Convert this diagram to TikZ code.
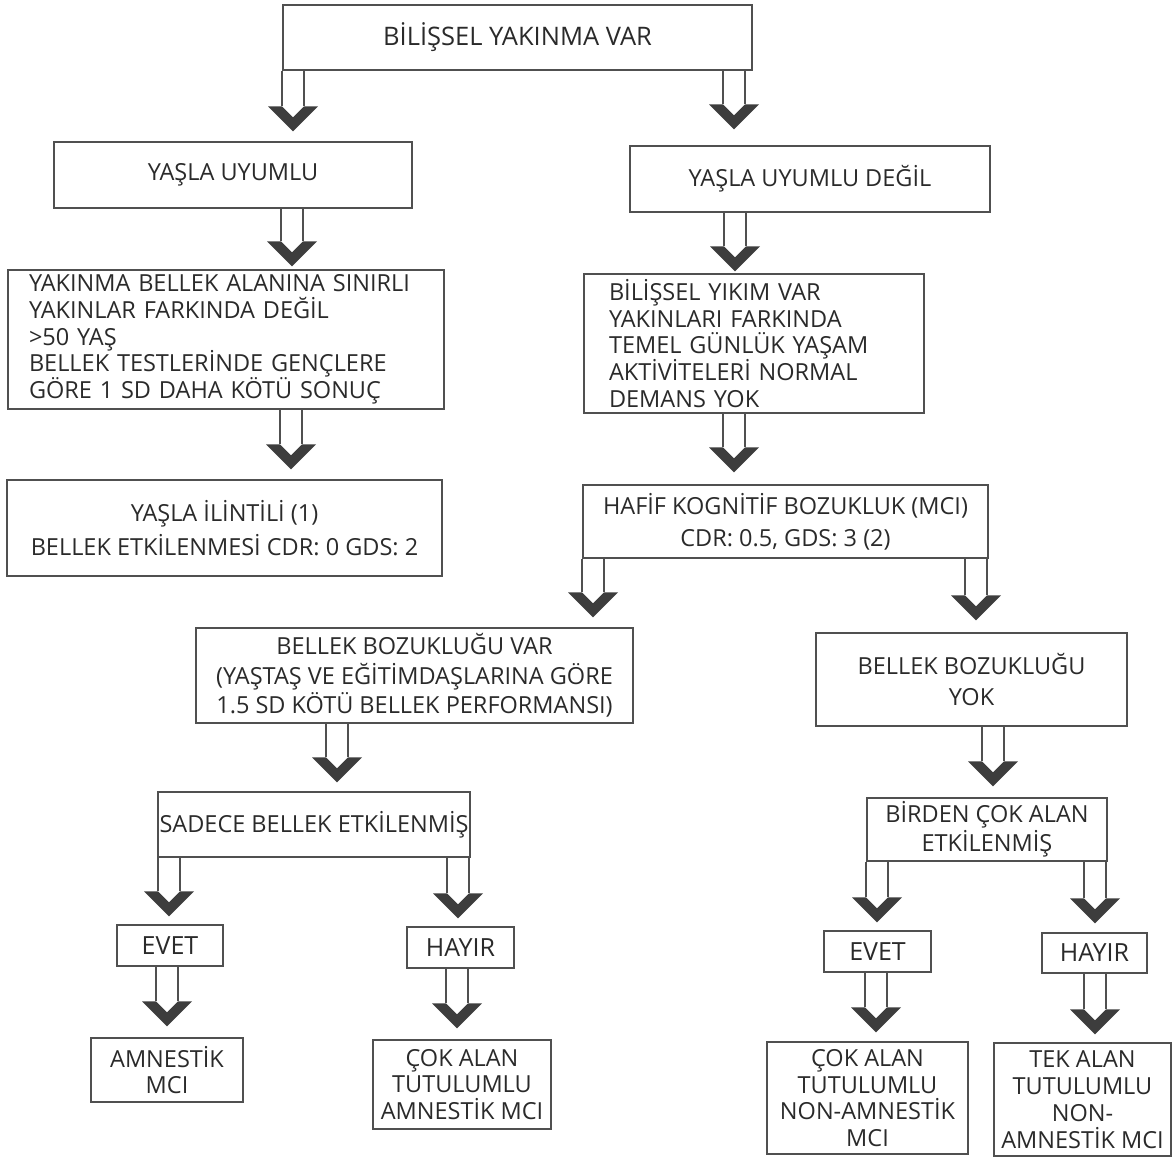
\documentclass[tikz,border=0pt]{standalone}
\usepackage{fontspec}
\setmainfont{Open Sans}
\usetikzlibrary{calc}
\definecolor{inkgray}{HTML}{2A2A2A}
\definecolor{linegray}{HTML}{505050}
\definecolor{headgray}{HTML}{3D3D3D}
\newcommand{\hollowarrow}[4]{%
	\coordinate (tip) at ($(#1,0 |- #3.north)+(0,#4)$);
	\draw [shaft] ($(#1,0 |- #2.south)+(-11,0)$) -- ($(tip)+(-11,25)$);
	\draw [shaft] ($(#1,0 |- #2.south)+(11,0)$) -- ($(tip)+(11,25)$);
	\fill [chevron] (tip) -- ++(-25,25) -- ++(14,0) -- ++(11,-11) -- ++(11,11) -- ++(14,0) -- cycle;
}
\begin{document}
\begin{tikzpicture}[x=1pt,y=1pt,
	box/.style={draw=linegray, line width=1.3pt, inner sep=0pt, text=inkgray, align=center, font=\fontsize{23.5}{26.8}\selectfont},
	bigtext/.style={font=\fontsize{25.5}{28}\selectfont},
	answer/.style={font=\fontsize{25}{28}\selectfont},
	shaft/.style={draw=linegray, line width=1.1pt},
	chevron/.style={fill=headgray}]
		 \useasboundingbox (0,0) rectangle (1174,-1161);
		 \node [box, bigtext, minimum width=469pt, minimum height=65pt] (yakinma) at (517.5,-37.5) {BİLİŞSEL YAKINMA VAR};
		 \node [box, minimum width=358pt, minimum height=66pt] (uyumlu) at (233,-175) {YAŞLA UYUMLU};
		 \node [box, minimum width=360pt, minimum height=66pt] (uyumsuz) at (810,-179) {YAŞLA UYUMLU DEĞİL};
		 \node [box, align=left, text width=394pt, inner xsep=21pt, minimum height=139pt] (sinirli) at (226,-339.5) {YAKINMA BELLEK ALANINA SINIRLI\\YAKINLAR FARKINDA DEĞİL\\>50 YAŞ\\BELLEK TESTLERİNDE GENÇLERE\\GÖRE 1 SD DAHA KÖTÜ SONUÇ};
		 \node [box, align=left, text width=290pt, inner xsep=25pt, minimum height=139pt] (yikim) at (754,-343.5) {BİLİŞSEL YIKIM VAR\\YAKINLARI FARKINDA\\TEMEL GÜNLÜK YAŞAM\\AKTİVİTELERİ NORMAL\\DEMANS YOK};
		 \node [box, minimum width=435pt, minimum height=96pt] (ilintili) at (224.5,-528) {YAŞLA İLİNTİLİ (1)\\[6.5pt]BELLEK ETKİLENMESİ CDR: 0 GDS: 2};
		 \node [box, minimum width=405pt, minimum height=73pt] (hafif) at (785.5,-521.5) {HAFİF KOGNİTİF BOZUKLUK (MCI)\\[5.5pt]CDR: 0.5, GDS: 3 (2)};
		 \node [box, minimum width=437pt, minimum height=95pt] (bozukvar) at (414.5,-675.5) {BELLEK BOZUKLUĞU VAR\\[2.5pt](YAŞTAŞ VE EĞİTİMDAŞLARINA GÖRE\\[2.5pt]1.5 SD KÖTÜ BELLEK PERFORMANSI)};
		 \node [box, minimum width=311pt, minimum height=93pt] (bozukyok) at (971.5,-679.5) {BELLEK BOZUKLUĞU\\[3.5pt]YOK};
		 \node [box, minimum width=312pt, minimum height=65pt] (sadece) at (314,-824.5) {SADECE BELLEK ETKİLENMİŞ};
		 \node [box, minimum width=240pt, minimum height=63pt] (birden) at (987,-829.5) {BİRDEN ÇOK ALAN\\[2.5pt]ETKİLENMİŞ};
		 \node [box, answer, minimum width=106pt, minimum height=41pt] (evetsol) at (170,-945.5) {EVET};
		 \node [box, answer, minimum width=107pt, minimum height=41pt] (hayirsol) at (460.5,-947.5) {HAYIR};
		 \node [box, answer, minimum width=107pt, minimum height=41pt] (evetsag) at (877.5,-951.5) {EVET};
		 \node [box, answer, minimum width=105pt, minimum height=40pt] (hayirsag) at (1094.5,-953) {HAYIR};
		 \node [box, minimum width=152pt, minimum height=64pt] (amnestik) at (167,-1070) {AMNESTİK\\MCI};
		 \node [box, minimum width=178pt, minimum height=89pt] (cokalansol) at (462,-1084.5) {ÇOK ALAN\\TUTULUMLU\\AMNESTİK MCI};
		 \node [box, minimum width=201pt, minimum height=112pt] (cokalansag) at (867.5,-1098) {ÇOK ALAN\\TUTULUMLU\\NON-AMNESTİK\\MCI};
		 \node [box, minimum width=177pt, minimum height=113pt] (tekalan) at (1082.5,-1099.5) {TEK ALAN\\TUTULUMLU\\NON-\\AMNESTİK MCI};
		 \hollowarrow{293}{yakinma}{uyumlu}{10}
		 \hollowarrow{734}{yakinma}{uyumsuz}{16}
		 \hollowarrow{292}{uyumlu}{sinirli}{3}
		 \hollowarrow{735}{uyumsuz}{yikim}{2}
		 \hollowarrow{291}{sinirli}{ilintili}{10}
		 \hollowarrow{734}{yikim}{hafif}{12}
		 \hollowarrow{593}{hafif}{bozukvar}{10}
		 \hollowarrow{976}{hafif}{bozukyok}{12}
		 \hollowarrow{337}{bozukvar}{sadece}{9}
		 \hollowarrow{993}{bozukyok}{birden}{11}
		 \hollowarrow{169}{sadece}{evetsol}{8}
		 \hollowarrow{458}{sadece}{hayirsol}{8}
		 \hollowarrow{877}{birden}{evetsag}{8}
		 \hollowarrow{1095}{birden}{hayirsag}{9}
		 \hollowarrow{167}{evetsol}{amnestik}{11}
		 \hollowarrow{457}{hayirsol}{cokalansol}{11}
		 \hollowarrow{876}{evetsag}{cokalansag}{9}
		 \hollowarrow{1095}{hayirsag}{tekalan}{8}
\end{tikzpicture}
\end{document}
